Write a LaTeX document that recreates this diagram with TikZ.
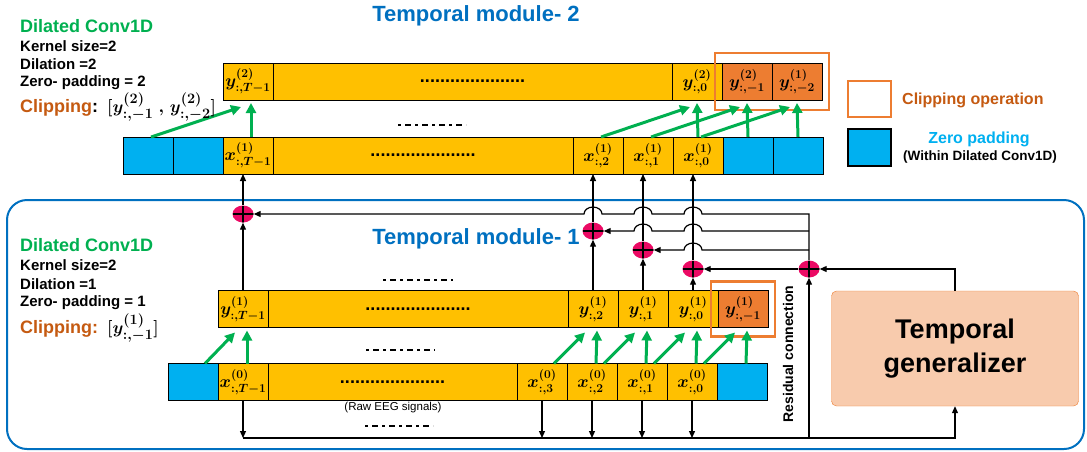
\documentclass[tikz,border=0pt]{standalone}
\usepackage[no-math]{fontspec}
\usepackage{amsmath,bm}
\usetikzlibrary{positioning,shapes.geometric,arrows.meta,fit}
\newfontfamily\arialbf{Liberation Sans}
\definecolor{gold}{HTML}{FFC000}
\definecolor{cliporange}{HTML}{ED7D31}
\definecolor{cliptext}{HTML}{C55A11}
\definecolor{padblue}{HTML}{00B0F0}
\definecolor{titleblue}{HTML}{0070C0}
\definecolor{convgreen}{HTML}{00B050}
\definecolor{sumred}{HTML}{EB0A64}
\definecolor{genfill}{HTML}{F8CBAD}
\begin{document}
\begin{tikzpicture}[x=1pt, y=-1pt, >={Triangle[length=7pt,width=6pt]}, node distance=0pt,
    cell/.style={draw, fill=gold, line width=0.9pt, text width=50pt, align=center, minimum height=37pt,
                 inner sep=0pt, outer sep=0pt, font=\fontsize{18}{18}\selectfont},
    pad cell/.style={cell, fill=padblue},
    clip cell/.style={cell, fill=cliporange},
    dot cell/.style={cell, text width=#1, font=\arialbf\bfseries\fontsize{18}{18}\selectfont},
    clip box/.style={draw=cliporange, line width=2.5pt, inner sep=0pt},
    sum node/.style={ellipse, fill=sumred, minimum width=21pt, minimum height=17pt, inner sep=0pt,
                     path picture={\draw[line width=1.6pt]
                       (path picture bounding box.north) -- (path picture bounding box.south)
                       (path picture bounding box.west) -- (path picture bounding box.east);}},
    wire/.style={line width=1.2pt},
    green arrow/.style={convgreen, line width=3pt, -{Triangle[length=10pt,width=10pt]}},
    omit line/.style={line width=2.8pt, dash pattern=on 3pt off 4pt on 6pt off 4pt},
    info text/.style={anchor=west, inner sep=0pt, font=\arialbf\bfseries\fontsize{15}{15}\selectfont},
    conv title/.style={info text, text=convgreen, font=\arialbf\bfseries\fontsize{18}{18}\selectfont},
    clip text/.style={info text, font=\arialbf\bfseries\fontsize{18}{18}\selectfont},
    module title/.style={text=titleblue, inner sep=0pt, font=\arialbf\bfseries\fontsize{22}{22}\selectfont},
    gen box/.style={draw=cliporange, fill=genfill, rounded corners=5pt, minimum width=247pt,
                    minimum height=115pt, align=center, font=\arialbf\bfseries\fontsize{27}{34}\selectfont}]
  \useasboundingbox (0,0) rectangle (1087,451);

  \draw[titleblue, line width=2pt, rounded corners=20pt] (7,200) rectangle (1084,449);

  % temporal module 2
  \node[cell, anchor=west] (y2T) at (223,81.5) {$\bm{y^{(2)}_{:,T-1}}$};
  \node[dot cell=399pt, right=of y2T] (y2d) {.....................};
  \node[cell, right=of y2d] (y2z) {$\bm{y^{(2)}_{:,0}}$};
  \node[clip cell, right=of y2z] (y2m1) {$\bm{y^{(2)}_{:,-1}}$};
  \node[clip cell, right=of y2m1] (y2m2) {$\bm{y^{(1)}_{:,-2}}$};

  \node[pad cell, anchor=west] (p2a) at (123,155.5) {};
  \node[pad cell, right=of p2a] (p2b) {};
  \node[cell, right=of p2b] (x1T) {$\bm{x^{(1)}_{:,T-1}}$};
  \node[dot cell=300pt, right=of x1T] (x1d) {.....................};
  \node[cell, right=of x1d] (x1b) {$\bm{x^{(1)}_{:,2}}$};
  \node[cell, right=of x1b] (x1a) {$\bm{x^{(1)}_{:,1}}$};
  \node[cell, right=of x1a] (x1z) {$\bm{x^{(1)}_{:,0}}$};
  \node[pad cell, right=of x1z] (p2c) {};
  \node[pad cell, right=of p2c] (p2d) {};

  \node[clip box, fit=(y2m1)(y2m2), inner xsep=7pt, inner ysep=10pt] (c2) {};

  % temporal module 1
  \node[cell, anchor=west] (y1T) at (218,309) {$\bm{y^{(1)}_{:,T-1}}$};
  \node[dot cell=300pt, right=of y1T] (y1d) {.....................};
  \node[cell, right=of y1d] (y1c) {$\bm{y^{(1)}_{:,2}}$};
  \node[cell, right=of y1c] (y1b) {$\bm{y^{(1)}_{:,1}}$};
  \node[cell, right=of y1b] (y1a) {$\bm{y^{(1)}_{:,0}}$};
  \node[clip cell, right=of y1a] (y1m) {$\bm{y^{(1)}_{:,-1}}$};

  \node[pad cell, anchor=west] (p1a) at (168,382) {};
  \node[cell, right=of p1a] (x0T) {$\bm{x^{(0)}_{:,T-1}}$};
  \node[dot cell=249pt, right=of x0T] (x0d) {.....................};
  \node[cell, right=of x0d] (x0c) {$\bm{x^{(0)}_{:,3}}$};
  \node[cell, right=of x0c] (x0b) {$\bm{x^{(0)}_{:,2}}$};
  \node[cell, right=of x0b] (x0a) {$\bm{x^{(0)}_{:,1}}$};
  \node[cell, right=of x0a] (x0z) {$\bm{x^{(0)}_{:,0}}$};
  \node[pad cell, right=of x0z] (p1b) {};

  \node[clip box, fit=(y1m), inner xsep=7pt, inner ysep=9pt] (c1) {};

  \node[font=\arialbf\fontsize{11.5}{11.5}\selectfont] (raw) at (393,408) {(Raw EEG signals)};

  \draw[omit line] (398,125) -- (466,125);
  \draw[omit line] (383,280) -- (453,280);
  \draw[omit line] (366,350) -- (435,350);
  \draw[omit line] (365,426) -- (433,426);

  % green dilated convolution taps
  \path[green arrow]
    ([xshift=3pt]p2a.north) edge ([xshift=-7pt,yshift=-7pt]y2T.south)
    ([xshift=3pt]x1b.north) edge ([xshift=-7pt,yshift=-7pt]y2z.south)
    ([xshift=3pt]x1a.north) edge ([xshift=-7pt,yshift=-7pt]y2m1.south)
    ([xshift=3pt]x1z.north) edge ([xshift=-7pt,yshift=-7pt]y2m2.south)
    ([xshift=3pt]x1T.north) edge ([xshift=3pt,yshift=-3pt]y2T.south)
    (x1z.north) edge ([yshift=-3pt]y2z.south)
    (p2c.north) edge ([yshift=-3pt]y2m1.south)
    (p2d.north) edge ([yshift=-3pt]y2m2.south);
  \path[green arrow]
    ([xshift=12pt]p1a.north) edge ([xshift=-8pt,yshift=-5pt]y1T.south)
    ([xshift=12pt]x0c.north) edge ([xshift=-8pt,yshift=-5pt]y1c.south)
    ([xshift=12pt]x0b.north) edge ([xshift=-8pt,yshift=-5pt]y1b.south)
    ([xshift=12pt]x0a.north) edge ([xshift=-8pt,yshift=-5pt]y1a.south)
    ([xshift=12pt]x0z.north) edge ([xshift=-8pt,yshift=-5pt]y1m.south)
    ([xshift=4pt]x0T.north) edge ([xshift=4pt,yshift=-3pt]y1T.south)
    ([xshift=4pt]x0b.north) edge ([xshift=4pt,yshift=-3pt]y1c.south)
    ([xshift=4pt]x0a.north) edge ([xshift=4pt,yshift=-3pt]y1b.south)
    ([xshift=4pt]x0z.north) edge ([xshift=4pt,yshift=-3pt]y1a.south)
    ([xshift=4pt]p1b.north) edge ([xshift=4pt,yshift=-3pt]y1m.south);

  % residual sums
  \node[sum node] (s0) at (y1T |- 0,214) {};
  \node[sum node] (s1) at (y1c |- 0,231) {};
  \node[sum node] (s2) at (y1b |- 0,250) {};
  \node[sum node] (s3) at (y1a |- 0,269) {};
  \node[sum node] (sr) at (809,269) {};
  \coordinate (r0) at (sr |- s0);
  \coordinate (r1) at (sr |- s1);
  \coordinate (r2) at (sr |- s2);
  \coordinate (bot) at (0,438);

  \node[gen box] (gen) at (955,348.5) {Temporal\\generalizer};
  \node[rotate=90, inner sep=0pt, font=\arialbf\bfseries\fontsize{14}{14}\selectfont] (res) at (788,354) {Residual connection};

  \path[wire, ->]
    (y1T.north) edge (s0.south)
    (y1c.north) edge (s1.south)
    (y1b.north) edge (s2.south)
    (y1a.north) edge (s3.south)
    (s0.north) edge (s0.north |- x1T.south)
    (s1.north) edge (s1.north |- x1b.south)
    (s2.north) edge (s2.north |- x1a.south)
    (s3.north) edge (s3.north |- x1z.south)
    (x0T.south) edge (x0T.south |- bot)
    (x0c.south) edge (x0c.south |- bot)
    (x0b.south) edge (x0b.south |- bot)
    (x0a.south) edge (x0a.south |- bot)
    (x0z.south) edge (x0z.south |- bot)
    (sr |- bot) edge (sr.south)
    (sr.west) edge (s3.east);
  \draw[wire, ->] (x0T.south |- bot) -| (gen.south);
  \draw[wire, ->] (gen.north) |- (sr.east);
  \draw[wire, ->] (sr.north) -- (r0)
    -- ([xshift=9pt]s3 |- r0) arc[start angle=0, end angle=180, x radius=9pt, y radius=7pt]
    -- ([xshift=9pt]s2 |- r0) arc[start angle=0, end angle=180, x radius=9pt, y radius=7pt]
    -- ([xshift=9pt]s1 |- r0) arc[start angle=0, end angle=180, x radius=9pt, y radius=7pt]
    -- (s0.east);
  \draw[wire, ->] (r1)
    -- ([xshift=9pt]s3 |- r1) arc[start angle=0, end angle=180, x radius=9pt, y radius=7pt]
    -- ([xshift=9pt]s2 |- r1) arc[start angle=0, end angle=180, x radius=9pt, y radius=7pt]
    -- (s1.east);
  \draw[wire, ->] (r2)
    -- ([xshift=9pt]s3 |- r2) arc[start angle=0, end angle=180, x radius=9pt, y radius=7pt]
    -- (s2.east);

  % titles and settings
  \node[module title] (t2) at (476,16) {Temporal module- 2};
  \node[module title] (t1) at (476,239) {Temporal module- 1};

  \node[conv title] (d2) at (20,26) {Dilated Conv1D};
  \node[info text] (k2) at (20,46) {Kernel size=2};
  \node[info text] (l2) at (20,64) {Dilation =2};
  \node[info text] (z2) at (20,83) {Zero- padding =\ 2};
  \node[clip text] (cl2) at (20,107) {\textcolor{cliptext}{Clipping}:\enspace
    {\fontsize{19}{19}\selectfont$\bm{[y^{(2)}_{:,-1}\ ,\,y^{(2)}_{:,-2}]}$}};

  \node[conv title] (d1) at (20,245) {Dilated Conv1D};
  \node[info text] (k1) at (20,265) {Kernel size=2};
  \node[info text] (l1) at (20,284) {Dilation =1};
  \node[info text] (z1) at (20,303) {Zero- padding =\ 1};
  \node[clip text] (cl1) at (20,328) {\textcolor{cliptext}{Clipping:}\enspace
    {\fontsize{19}{19}\selectfont$\bm{[y^{(1)}_{:,-1}]}$}};

  % legend
  \node[clip box, minimum width=43pt, minimum height=36pt] (lc) at (869.5,99) {};
  \node[pad cell, line width=1.5pt, text width=43pt, minimum height=37pt] (lp) at (869.5,147.5) {};
  \node[info text, text=cliptext, font=\arialbf\bfseries\fontsize{16}{16}\selectfont] (lct) at (902,100) {Clipping operation};
  \node[inner sep=0pt, text=padblue, font=\arialbf\bfseries\fontsize{16}{16}\selectfont] (lpt) at (979,139) {Zero padding};
  \node[inner sep=0pt, font=\arialbf\bfseries\fontsize{13.5}{13.5}\selectfont] (lpw) at (980,157) {(Within Dilated Conv1D)};
\end{tikzpicture}
\end{document}
